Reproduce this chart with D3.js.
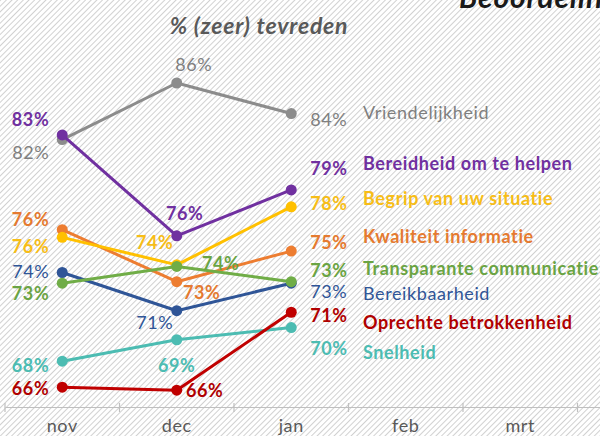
<!DOCTYPE html>
<html><head><meta charset="utf-8">
<script src="https://cdn.jsdelivr.net/npm/d3@7"></script>
<style>html,body{margin:0;padding:0;background:#fff;overflow:hidden}</style>
</head><body>
<svg id="c" width="600" height="436"></svg>
<script>
// ---- data ----
const months = ["nov", "dec", "jan", "feb", "mrt", "apr"];
const seriesNames = ["Vriendelijkheid", "Bereidheid om te helpen", "Begrip van uw situatie", "Kwaliteit informatie",
  "Transparante communicatie", "Bereikbaarheid", "Oprechte betrokkenheid", "Snelheid"];
const vriendelijkheid = [82.3, 86.0, 84.0];
const bereidheid = [82.6, 76.0, 79.0];
const begrip = [75.9, 74.1, 77.9];
const kwaliteit = [76.4, 73.0, 75.0];
const transparante = [72.9, 74.0, 73.0];
const bereikbaarheid = [73.6, 71.1, 72.9];
const oprechte = [66.1, 65.9, 71.0];
const snelheid = [67.8, 69.2, 70.0];
const valuesBySeries = [vriendelijkheid, bereidheid, begrip, kwaliteit, transparante, bereikbaarheid, oprechte, snelheid];

// ---- style / layout ----
const colors = ["#8c8c8c", "#7030a0", "#ffc000", "#ed7d31", "#70ad47", "#2f5597", "#c00000", "#4cbcb2"];
const textColors = ["#7f7f7f", "#7030a0", "#f7bd17", "#e57a30", "#6aa443", "#2f5597", "#b00000", "#4cbcb2"];
const bold = [false, true, true, true, true, false, true, true];
const lblNov = [12, -16, 9, -11, 10, -2, 1, 4];
const lblDec = [[17, -19], [8, -23], [-22, -23], [25, 10], [44, -3], [-22, 11], [28, 0], [0, 25]];
const lblJan = [5, -22, -4, -9, -12, 8, 3, 20];
const nameDy = [-2, -27, -9, -15, -14, 10, 10, 24];
const drawOrder = [0, 5, 3, 2, 4, 7, 6, 1];

const svg = d3.select("#c");
const defs = svg.append("defs");
const pat = defs.append("pattern").attr("id", "hatch").attr("patternUnits", "userSpaceOnUse")
  .attr("width", 4).attr("height", 4).attr("patternTransform", "rotate(45)");
pat.append("rect").attr("width", 4).attr("height", 4).attr("fill", "#ffffff");
pat.append("line").attr("x1", 0).attr("y1", 0).attr("x2", 0).attr("y2", 4)
  .attr("stroke", "#cccccc").attr("stroke-width", 1.8);
svg.append("rect").attr("width", 600).attr("height", 436).attr("fill", "url(#hatch)");

const FONT = "Lato, 'Open Sans', sans-serif";
const x = d3.scaleBand().domain(months).range([5, 5 + 6 * 114.5]).padding(0);
const xc = m => x(m) + x.bandwidth() / 2;
const y = d3.scaleLinear().domain([64.8, 86]).range([407, 83]);

// axis
const axisG = svg.append("g").attr("transform", "translate(0,407)");
axisG.call(d3.axisBottom(x).tickSize(0).tickPadding(23));
axisG.select(".domain").attr("stroke", "#bfbfbf").attr("stroke-width", 1.2);
axisG.selectAll(".tick text").attr("font-family", FONT).attr("font-size", 18).attr("fill", "#595959")
  .attr("letter-spacing", 0.6).attr("dy", "0.1em");
axisG.selectAll(".tickmark").data(months.concat(["_end"])).enter().append("line")
  .attr("x1", (d, i) => 5 + i * x.step()).attr("x2", (d, i) => 5 + i * x.step())
  .attr("y1", -4).attr("y2", 5).attr("stroke", "#bfbfbf").attr("stroke-width", 1.2);

// titles
svg.append("text").attr("x", 259).attr("y", 34).attr("text-anchor", "middle")
  .attr("font-family", FONT).attr("font-size", 23).attr("font-weight", "bold").attr("font-style", "italic")
  .attr("letter-spacing", 0.8).attr("fill", "#595959").text("% (zeer) tevreden");
svg.append("text").attr("x", 459).attr("y", 8)
  .attr("font-family", FONT).attr("font-size", 30).attr("font-weight", "bold").attr("font-style", "italic")
  .attr("letter-spacing", 0.8).attr("fill", "#1a1a1a").text("Beoordeling");

const line = d3.line().x((d, i) => xc(months[i])).y(d => y(d));
const gLines = svg.append("g");
drawOrder.forEach(s => {
  const vals = valuesBySeries[s];
  gLines.append("path").datum(vals).attr("d", line).attr("fill", "none")
    .attr("stroke", colors[s]).attr("stroke-width", 3).attr("stroke-linejoin", "round");
  gLines.selectAll(null).data(vals).enter().append("circle")
    .attr("cx", (d, i) => xc(months[i])).attr("cy", d => y(d)).attr("r", 5.5).attr("fill", colors[s]);
});

const fmt = v => Math.round(v) + "%";
const gl = svg.append("g").attr("font-family", FONT).attr("font-size", 18).attr("letter-spacing", 0.6)
  .attr("dominant-baseline", "central");
valuesBySeries.forEach((vals, s) => {
  const w = bold[s] ? "bold" : "normal";
  gl.append("text").attr("x", xc("nov") - 13).attr("y", y(vals[0]) + lblNov[s]).attr("text-anchor", "end")
    .attr("fill", textColors[s]).attr("font-weight", w).text(fmt(vals[0]));
  gl.append("text").attr("x", xc("dec") + lblDec[s][0]).attr("y", y(vals[1]) + lblDec[s][1]).attr("text-anchor", "middle")
    .attr("fill", textColors[s]).attr("font-weight", w).text(fmt(vals[1]));
  gl.append("text").attr("x", xc("jan") + 19).attr("y", y(vals[2]) + lblJan[s]).attr("text-anchor", "start")
    .attr("fill", textColors[s]).attr("font-weight", w).text(fmt(vals[2]));
  gl.append("text").attr("x", 363).attr("y", y(vals[2]) + nameDy[s]).attr("text-anchor", "start")
    .attr("fill", textColors[s]).attr("font-weight", w).text(seriesNames[s]);
});
</script>
</body></html>
